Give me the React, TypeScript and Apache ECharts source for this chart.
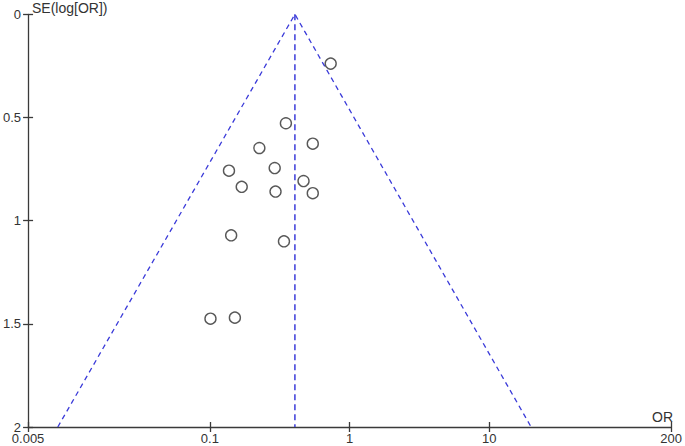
import React, { useEffect, useRef } from "react";
import * as echarts from "echarts";

// Study odds ratios and standard errors
const studyOR = [0.732, 0.350, 0.545, 0.226, 0.291, 0.137, 0.468, 0.169, 0.295, 0.545, 0.142, 0.339, 0.101, 0.151];
const studySE = [0.239, 0.528, 0.627, 0.648, 0.745, 0.758, 0.808, 0.836, 0.859, 0.867, 1.071, 1.100, 1.475, 1.470];

// Funnel (pseudo 95% limits) and pooled estimate
const pooledOR = 0.406;
const funnelOR = [0.00816, 0.406, 19.9];
const funnelSE = [2, 0, 2];
const pooledLineSE = [0, 2];

// Axis ticks
const xTicks = [0.005, 0.1, 1, 10, 200];
const xTickLabels = ["0.005", "0.1", "1", "10", "200"];
const yTicks = [0, 0.5, 1, 1.5, 2];

const FONT = "'Liberation Sans', Arial, sans-serif";
const AXIS_COLOR = "#3a3a3a";
const TEXT_COLOR = "#333";
const FUNNEL_COLOR = "#3b3bd9";

export default function App() {
  const ref = useRef<HTMLDivElement>(null);

  useEffect(() => {
    if (!ref.current) return;
    const chart = echarts.init(ref.current, null, { renderer: "svg" });

    const points = studyOR.map((v, i) => [v, studySE[i]]);
    const funnel = funnelOR.map((v, i) => [v, funnelSE[i]]);
    const pooled = pooledLineSE.map((s) => [pooledOR, s]);

    const xBase: any = {
      type: "log",
      logBase: 10,
      min: 0.005,
      max: 200,
      position: "bottom",
      splitLine: { show: false },
      minorTick: { show: false },
    };
    const yBase: any = {
      type: "value",
      inverse: true,
      min: 0,
      max: 2,
      interval: 0.5,
      position: "left",
      splitLine: { show: false },
    };

    chart.setOption({
      animation: false,
      grid: { left: 27.4, right: 11, top: 14.3, bottom: 19, containLabel: false },
      xAxis: [
        {
          ...xBase,
          axisLine: { show: true, onZero: false, lineStyle: { color: AXIS_COLOR, width: 1.3 } },
          axisTick: { show: true, length: 5, customValues: xTicks, lineStyle: { color: AXIS_COLOR, width: 1.3 } },
          axisLabel: {
            show: true,
            customValues: xTicks,
            formatter: (v: number) => {
              const idx = xTicks.findIndex((t) => Math.abs(Math.log10(t) - Math.log10(v)) < 1e-6);
              return idx >= 0 ? xTickLabels[idx] : "";
            },
            color: TEXT_COLOR,
            fontFamily: FONT,
            fontSize: 13,
            margin: 5,
            showMinLabel: true,
            showMaxLabel: true,
            hideOverlap: false,
          },
        },
        {
          ...xBase,
          axisLine: { show: false, onZero: false },
          axisTick: { show: true, inside: true, length: 5, customValues: xTicks, lineStyle: { color: AXIS_COLOR, width: 1.3 } },
          axisLabel: { show: false },
        },
      ],
      yAxis: [
        {
          ...yBase,
          axisLine: { show: true, onZero: false, lineStyle: { color: AXIS_COLOR, width: 1.3 } },
          axisTick: { show: true, length: 5, lineStyle: { color: AXIS_COLOR, width: 1.3 } },
          axisLabel: {
            show: true,
            color: TEXT_COLOR,
            fontFamily: FONT,
            fontSize: 13,
            margin: 7,
            formatter: (v: number) => String(v),
            customValues: yTicks,
          },
        },
        {
          ...yBase,
          axisLine: { show: false, onZero: false },
          axisTick: { show: true, inside: true, length: 5, lineStyle: { color: AXIS_COLOR, width: 1.3 } },
          axisLabel: { show: false },
        },
      ],
      graphic: [
        {
          type: "text",
          left: 32,
          top: 1,
          style: { text: "SE(log[OR])", fill: TEXT_COLOR, font: `14px ${FONT}` },
        },
        {
          type: "text",
          right: 12,
          top: 410,
          style: { text: "OR", fill: TEXT_COLOR, font: `14px ${FONT}` },
        },
      ],
      series: [
        {
          type: "line",
          data: funnel,
          xAxisIndex: 0,
          yAxisIndex: 0,
          symbol: "none",
          silent: true,
          lineStyle: { color: FUNNEL_COLOR, width: 1.3, type: [5, 4] },
        },
        {
          type: "line",
          data: pooled,
          xAxisIndex: 0,
          yAxisIndex: 0,
          symbol: "none",
          silent: true,
          lineStyle: { color: FUNNEL_COLOR, width: 1.5, type: [6, 4] },
        },
        {
          type: "scatter",
          data: points,
          xAxisIndex: 0,
          yAxisIndex: 0,
          symbol: "circle",
          symbolSize: 11,
          itemStyle: { color: "#ffffff", borderColor: "#2e2e2e", borderWidth: 1.4 },
          z: 5,
        },
      ],
    });

    return () => chart.dispose();
  }, []);

  return (
    <div
      ref={ref}
      style={{ position: "absolute", left: 0, top: 0, width: 685, height: 446, background: "#fff" }}
    />
  );
}
